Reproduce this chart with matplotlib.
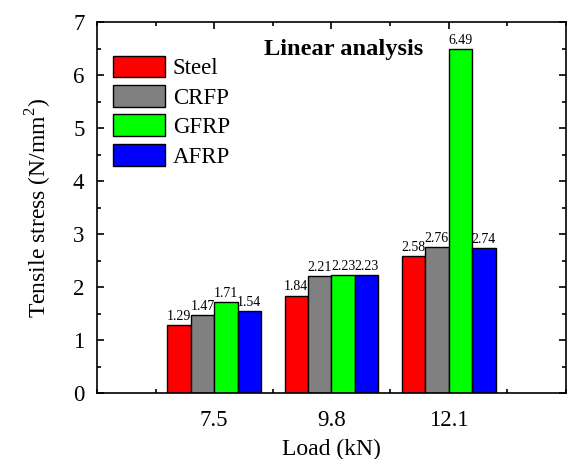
import numpy as np
import matplotlib
matplotlib.use('Agg')
import matplotlib.pyplot as plt
from matplotlib.ticker import MultipleLocator

plt.rcParams['font.family'] = ['Liberation Serif', 'DejaVu Serif']
plt.rcParams['mathtext.fontset'] = 'custom'
plt.rcParams['mathtext.rm'] = 'Liberation Serif'

loads = ['7.5', '9.8', '12.1']
materials = ['Steel', 'CRFP', 'GFRP', 'AFRP']
steel = [1.29, 1.84, 2.58]
crfp = [1.47, 2.21, 2.76]
gfrp = [1.71, 2.23, 6.49]
afrp = [1.54, 2.23, 2.74]
colors = ['#FF0000', '#808080', '#00FF00', '#0000FF']

series = [steel, crfp, gfrp, afrp]
x_pos = np.arange(len(loads))
width = 0.2

fig = plt.figure(figsize=(5.67, 4.59), dpi=100)
ax = fig.add_axes([0.171, 0.1438, 0.827, 0.808])

for i, (vals, name, col) in enumerate(zip(series, materials, colors)):
    xs = x_pos + (i - 1.5) * width
    bars = ax.bar(xs, vals, width, color=col, edgecolor='black', linewidth=1.0, label=name)
    for b, v in zip(bars, vals):
        ax.text(b.get_x() + b.get_width() / 2, v + 0.04, '%.2f' % v,
                ha='center', va='bottom', fontsize=10)

ax.set_axisbelow(True)
ax.set_xlim(-1, 3)
ax.set_ylim(0, 7)
ax.set_xticks(x_pos)
ax.set_xticklabels(loads)
ax.xaxis.set_minor_locator(MultipleLocator(0.5))
ax.yaxis.set_major_locator(MultipleLocator(1))
ax.yaxis.set_minor_locator(MultipleLocator(0.5))
ax.tick_params(which='both', direction='in', top=True, right=True, labelsize=16.5, width=1.2)
ax.tick_params(which='major', length=5)
ax.tick_params(which='minor', length=3)
ax.tick_params(axis='x', pad=12)
ax.tick_params(axis='y', pad=9)
for s in ax.spines.values():
    s.set_linewidth(1.2)

ax.set_xlabel('Load (kN)', fontsize=17, labelpad=6)
ax.set_ylabel('Tensile stress (N/mm$^2$)', fontsize=17, labelpad=14)

# annotation in the upper middle
ax.text(0.527, 0.925, 'Linear analysis', transform=ax.transAxes, ha='center', va='center',
        fontsize=17.6, fontweight='bold')

ax.legend(loc='upper left', bbox_to_anchor=(0.034, 0.91), frameon=False, fontsize=16.5,
          borderpad=0, borderaxespad=0, handlelength=2.26, handleheight=1.09,
          labelspacing=0.25, handletextpad=0.35)

plt.savefig('out.png', dpi=100)
